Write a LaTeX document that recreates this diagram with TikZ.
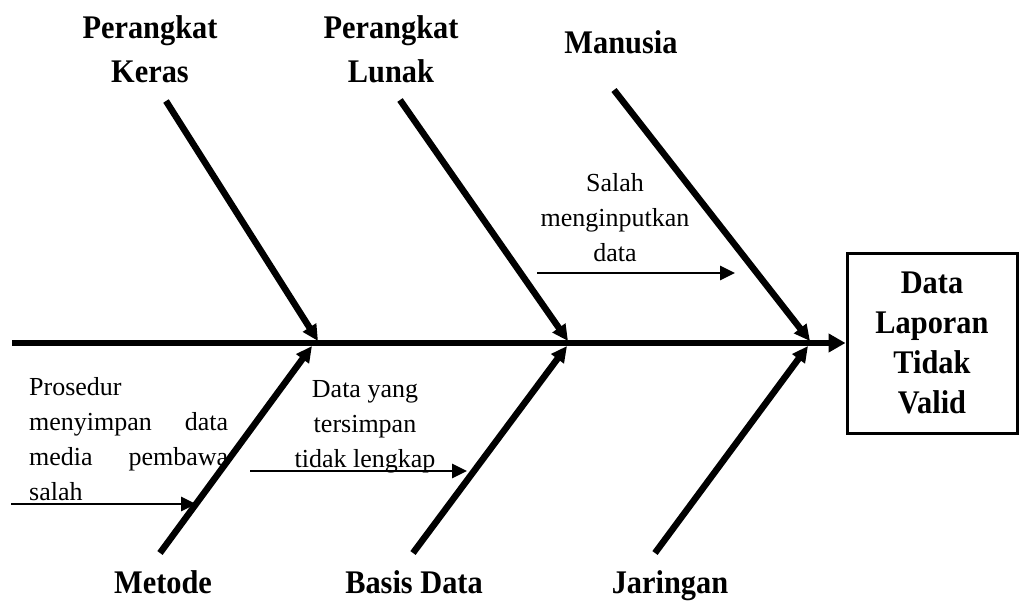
\documentclass[tikz,border=0pt]{standalone}
\usepackage{fontspec}
\setmainfont{Liberation Serif}
\newfontfamily\labelfont[FakeStretch=0.92]{Liberation Serif}
\usetikzlibrary{arrows.meta}
\begin{document}
\begin{tikzpicture}[x=1pt,y=-1pt,
  bone/.style={line width=6.5pt,-{Triangle[length=16pt,width=15pt]}},
  spine/.style={line width=5.5pt,-{Triangle[length=17pt,width=18pt]}},
  cause/.style={line width=2.8pt,-{Triangle[length=15pt,width=14pt]}},
  head/.style={font=\labelfont\bfseries\fontsize{33}{44}\selectfont,align=center,inner sep=0pt,anchor=base},
  note/.style={font=\fontsize{26}{35}\selectfont,inner sep=0pt,anchor=base},
  effect/.style={draw,line width=3pt,inner sep=0pt,minimum width=170pt,minimum height=180pt,
    align=center,font=\labelfont\bfseries\fontsize{33}{40}\selectfont}
]
\useasboundingbox (0,0) rectangle (1019,602);

% effect box
\node[effect] (eff) at (932,343) {Data\\Laporan\\Tidak\\Valid};

% spine
\coordinate (tail) at (12,343);
\draw[spine] (tail) -- (eff.west);

% bone ends on the spine
\coordinate (k2) at (318,341);
\coordinate (l2) at (568,341);
\coordinate (m2) at (810,341);
\coordinate (me2) at (312,346);
\coordinate (b2) at (567,346);
\coordinate (j2) at (808,346);

% bone starts
\coordinate (k1) at (166,101);
\coordinate (l1) at (400,100);
\coordinate (m1) at (614,90);
\coordinate (me1) at (160,553);
\coordinate (b1) at (413,553);
\coordinate (j1) at (655,553);

\draw[bone] (k1) -- (k2);
\draw[bone] (l1) -- (l2);
\draw[bone] (m1) -- (m2);
\draw[bone] (me1) -- (me2);
\draw[bone] (b1) -- (b2);
\draw[bone] (j1) -- (j2);

% category labels (anchor = baseline of the last line)
\node[head] (hk) at (150,82) {Perangkat\\Keras};
\node[head] (hl) at (391,82) {Perangkat\\Lunak};
\node[head] (hm) at (621,54) {Manusia};
\node[head] (hme) at (163,593) {Metode};
\node[head] (hb) at (414,593) {Basis Data};
\node[head] (hj) at (670,593) {Jaringan};

% causes
\node[note,align=center] (n1) at (615,261) {Salah\\menginputkan\\data};
\node[note,align=center] (n2) at (365,467) {Data yang\\tersimpan\\tidak lengkap};
\node[note,align=left,anchor=base west] (n3) at (29,500)
  {Prosedur\\\makebox[199pt][s]{menyimpan data}\\\makebox[199pt][s]{media pembawa}\\salah};

\coordinate (c1a) at (537,273);
\coordinate (c1b) at (735,273);
\coordinate (c2a) at (250,471);
\coordinate (c2b) at (467,471);
\coordinate (c3a) at (11,504);
\coordinate (c3b) at (196,504);
\draw[cause] (c1a) -- (c1b);
\draw[cause] (c2a) -- (c2b);
\draw[cause] (c3a) -- (c3b);
\end{tikzpicture}
\end{document}
